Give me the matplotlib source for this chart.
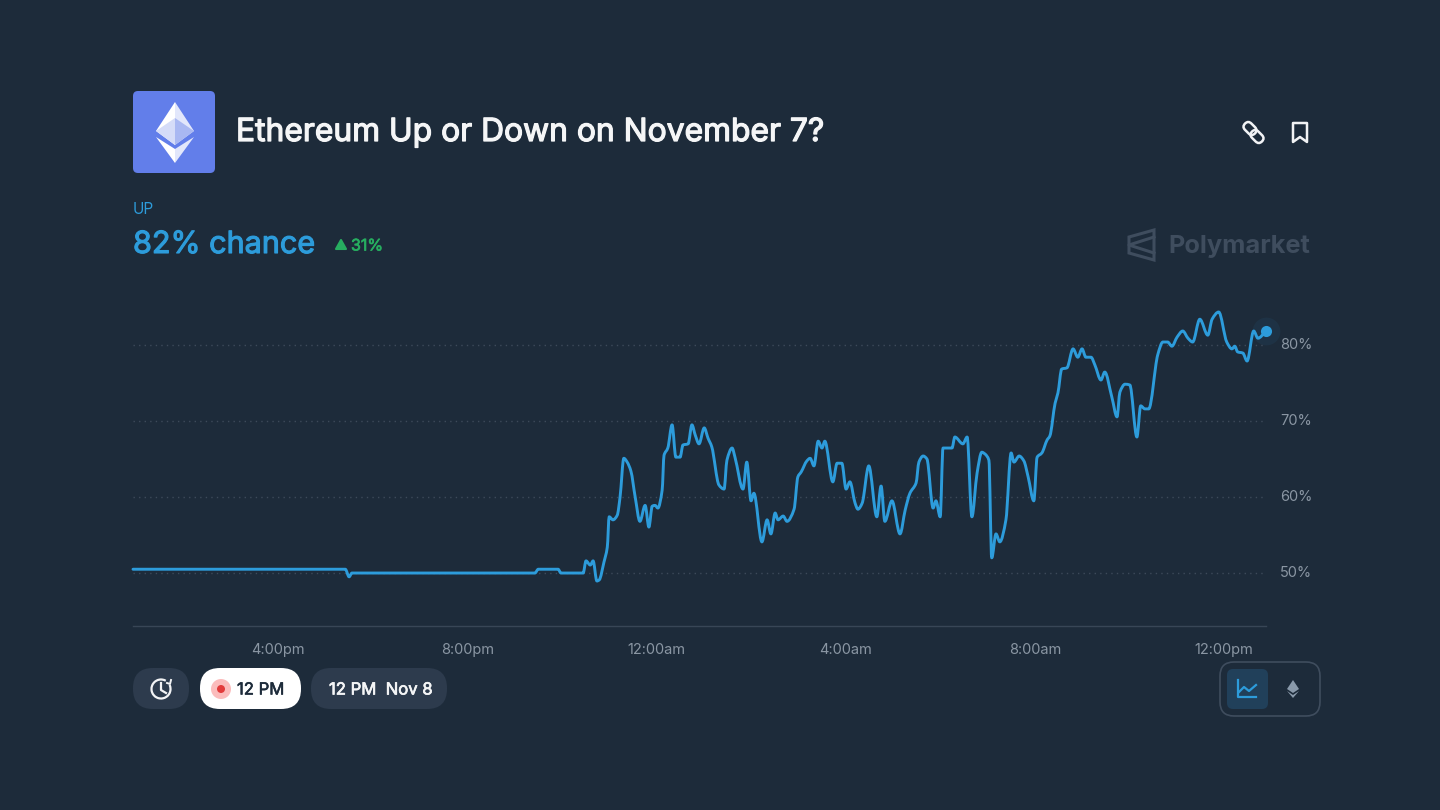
import matplotlib
matplotlib.use("Agg")
import matplotlib.pyplot as plt
import matplotlib.patheffects as pe
from matplotlib.patches import FancyBboxPatch, Polygon, Circle, Arc, PathPatch
from matplotlib.path import Path
from matplotlib.transforms import Affine2D, ScaledTranslation

BG = "#1d2b3a"
BLUE = "#2d9cdb"
GREEN = "#27ae60"
MUTED = "#8a96a3"
plt.rcParams["font.family"] = ["Inter", "DejaVu Sans"]

# hours counted from noon of Nov 6, 24 = midnight
hours = [12.93, 17.42, 17.50, 17.56, 21.43, 21.50, 21.92, 21.98, 22.45, 22.51, 22.60, 22.66, 22.74, 22.79,
         22.89, 22.96, 23.00, 23.08, 23.17, 23.23, 23.31, 23.38, 23.46, 23.55, 23.65, 23.76, 23.84, 23.91,
         23.97, 24.03, 24.12, 24.16, 24.24, 24.33, 24.41, 24.50, 24.56, 24.67, 24.75, 24.82, 24.90, 25.01,
         25.09, 25.17, 25.32, 25.43, 25.49, 25.60, 25.66, 25.83, 25.91, 26.00, 26.06, 26.23, 26.34, 26.42,
         26.51, 26.57, 26.68, 26.76, 26.91, 26.99, 27.06, 27.18, 27.25, 27.33, 27.42, 27.50, 27.56, 27.73,
         27.82, 27.92, 28.01, 28.09, 28.20, 28.26, 28.35, 28.49, 28.66, 28.75, 28.83, 28.98, 29.15, 29.26,
         29.36, 29.49, 29.55, 29.64, 29.72, 29.85, 29.91, 30.00, 30.06, 30.25, 30.31, 30.48, 30.57, 30.67,
         30.78, 30.88, 30.95, 31.03, 31.09, 31.18, 31.26, 31.39, 31.50, 31.56, 31.67, 31.77, 31.86, 31.98,
         32.05, 32.15, 32.26, 32.32, 32.43, 32.49, 32.57, 32.68, 32.81, 32.91, 33.00, 33.08, 33.19, 33.27,
         33.40, 33.48, 33.63, 33.74, 33.80, 33.91, 34.01, 34.16, 34.24, 34.33, 34.41, 34.60, 34.71, 34.81,
         34.90, 35.01, 35.13, 35.24, 35.34, 35.49, 35.66, 35.75, 35.89, 36.06, 36.17, 36.23, 36.29, 36.40,
         36.49, 36.63, 36.72, 36.89]
chance = [50.5, 50.5, 49.5, 50.0, 50.0, 50.5, 50.5, 50.0, 50.0, 51.6, 51.05, 51.6, 48.95, 49.1,
          51.45, 53.4, 57.4, 57.0, 57.6, 60.0, 65.1, 64.6, 63.4, 60.0, 56.8, 58.9, 56.05, 58.8,
          58.9, 58.55, 60.9, 65.5, 66.45, 69.5, 65.25, 65.25, 66.85, 67.0, 69.5, 68.15, 67.0, 69.1,
          67.75, 66.6, 61.6, 61.05, 64.85, 66.45, 65.25, 61.05, 64.6, 59.5, 60.5, 54.1, 57.0, 55.15,
          57.9, 57.0, 57.5, 56.8, 58.4, 62.65, 63.3, 64.75, 65.1, 64.1, 67.35, 66.45, 67.35, 62.0,
          64.45, 64.45, 61.05, 62.0, 59.2, 58.4, 59.2, 64.1, 57.4, 61.45, 56.8, 59.5, 55.15, 58.3,
          60.5, 61.85, 64.6, 65.4, 65.0, 58.55, 59.5, 57.4, 66.45, 66.45, 67.9, 67.0, 67.9, 57.4,
          63.15, 65.9, 65.65, 64.85, 52.0, 55.15, 54.1, 57.0, 65.8, 64.6, 65.4, 64.75, 62.65, 59.5,
          65.25, 65.8, 67.5, 68.05, 72.35, 73.7, 76.85, 77.0, 79.5, 78.4, 79.5, 78.4, 78.4, 77.4,
          75.4, 76.45, 73.15, 70.55, 73.8, 74.85, 74.75, 67.9, 72.0, 71.6, 71.6, 78.7, 80.4, 80.4,
          79.85, 81.05, 81.85, 80.9, 80.4, 83.4, 81.3, 83.4, 84.35, 80.4, 79.5, 79.85, 79.1, 78.95,
          77.9, 81.85, 80.9, 81.85]

y_ticks = [50, 60, 70, 80]
y_labels = ["50%", "60%", "70%", "80%"]
x_ticks = [16, 20, 24, 28, 32, 36]
x_labels = ["4:00pm", "8:00pm", "12:00am", "4:00am", "8:00am", "12:00pm"]


def monotone_path(xs, ys):
    # bezier through the points, flat at local peaks like a d3 monotone line
    slopes = [(ys[i + 1] - ys[i]) / (xs[i + 1] - xs[i]) for i in range(len(xs) - 1)]
    tang = [slopes[0]]
    for a, b in zip(slopes[:-1], slopes[1:]):
        tang.append(0 if a * b <= 0 else 2 * a * b / (a + b))
    tang.append(slopes[-1])
    verts = [(xs[0], ys[0])]
    codes = [Path.MOVETO]
    for i in range(len(xs) - 1):
        d = (xs[i + 1] - xs[i]) / 3
        verts += [(xs[i] + d, ys[i] + tang[i] * d), (xs[i + 1] - d, ys[i + 1] - tang[i + 1] * d), (xs[i + 1], ys[i + 1])]
        codes += [Path.CURVE4] * 3
    return Path(verts, codes)


fig = plt.figure(figsize=(14.4, 8.1), dpi=100, facecolor=BG)

# chart area spans x 133-1266, y 300-626 in pixels
ax = fig.add_axes([133 / 1440, 1 - 626 / 810, 1133 / 1440, 326 / 810], facecolor="none")
ax.set_xlim(12.93, 36.89)
ax.set_ylim(43.03, 85.93)
for s in ["top", "left", "right"]:
    ax.spines[s].set_visible(False)
ax.spines["bottom"].set_color("#384656")
ax.spines["bottom"].set_linewidth(1)
ax.set_xticks(x_ticks, x_labels)
ax.set_yticks(y_ticks, y_labels)
ax.yaxis.tick_right()
ax.tick_params(axis="both", length=0, labelsize=10.5, labelcolor=MUTED)
ax.tick_params(axis="x", pad=12.5)
ax.tick_params(axis="y", pad=10)
for lab in ax.get_yticklabels():
    lab.set_transform(lab.get_transform() + ScaledTranslation(0, 2 / 100, fig.dpi_scale_trans))
ax.grid(axis="y", color="#3d4a5a", linewidth=1, linestyle=(0, (1, 3)))
ax.add_patch(PathPatch(monotone_path(hours, chance), fc="none", ec=BLUE, lw=2.1, joinstyle="round",
                       capstyle="round", clip_on=False, zorder=3))
ax.plot(hours[-1], chance[-1], "o", color=BLUE, alpha=0.07, markersize=20, markeredgewidth=0, clip_on=False, zorder=3)
ax.plot(hours[-1], chance[-1], "o", color=BLUE, markersize=8, markeredgewidth=0, clip_on=False, zorder=4)

# everything around the chart, in pixel coordinates
ui = fig.add_axes([0, 0, 1, 1], facecolor="none")
ui.set_xlim(0, 1440)
ui.set_ylim(810, 0)
ui.axis("off")


def pill(x0, y0, x1, y1, r, fc, ec="none", lw=0, rot=None):
    p = FancyBboxPatch((x0 + r, y0 + r), x1 - x0 - 2 * r, y1 - y0 - 2 * r,
                       boxstyle=f"round,pad={r},rounding_size={r}", fc=fc, ec=ec, lw=lw)
    ui.add_patch(p)
    if rot is not None:
        p.set_transform(Affine2D().rotate_deg_around((x0 + x1) / 2, (y0 + y1) / 2, rot) + ui.transData)


# Inter only ships regular and bold here, a thin stroke stands in for medium
def medium(color, w=0.5):
    return [pe.withStroke(linewidth=w, foreground=color)]


# ethereum tile
pill(133, 91, 215, 173, 5, "#627eea")
ui.add_patch(Polygon([(175, 102), (156, 131), (175, 145)], fc="#ffffff", ec="none"))
ui.add_patch(Polygon([(175, 102), (194, 131), (175, 145)], fc="#e2e7fb", ec="none"))
ui.add_patch(Polygon([(175, 118), (156, 131), (175, 145)], fc="#d5dcf8", ec="none"))
ui.add_patch(Polygon([(175, 118), (194, 131), (175, 145)], fc="#a9b8f2", ec="none"))
ui.add_patch(Polygon([(156, 137), (175, 149), (175, 163)], fc="#ffffff", ec="none"))
ui.add_patch(Polygon([(194, 137), (175, 149), (175, 163)], fc="#e2e7fb", ec="none"))

ui.text(236, 132.5, "Ethereum Up or Down on November 7?", color="#f5f6f7", fontsize=22.9, va="center",
        path_effects=medium("#f5f6f7", 0.9))
ui.text(133, 210, "UP", color=BLUE, fontsize=11, va="center")
ui.text(133, 245, "82% chance", color=BLUE, fontsize=22, va="center", path_effects=medium(BLUE, 0.8))
ui.add_patch(Polygon([(341, 240), (346, 249), (336, 249)], fc=GREEN, ec=GREEN, lw=1.5, joinstyle="round"))
ui.text(351, 246, "31%", color=GREEN, fontsize=11.5, va="center", path_effects=medium(GREEN, 0.5))

# link icon
pill(1243, 124, 1257, 133, 4.5, "none", ec="#f2f3f5", lw=1.8, rot=45)
pill(1250, 132, 1264, 141, 4.5, "none", ec="#f2f3f5", lw=1.8, rot=45)
# bookmark icon
ui.add_patch(Polygon([(1293, 123), (1307, 123), (1307, 142), (1300, 137), (1293, 142)], fc="none",
                     ec="#f2f3f5", lw=1.8, joinstyle="round"))

# watermark
WM = "#3f4d5e"
ui.add_patch(Polygon([(1129, 237), (1154, 230), (1154, 260), (1129, 253)], fc="none", ec=WM, lw=2.2))
ui.plot([1154, 1129, 1154], [237, 245, 253], color=WM, lw=2.2)
ui.text(1168, 247, "Polymarket", color=WM, fontsize=18.3, fontweight="bold", va="center")

# bottom-left controls
pill(133, 668, 189, 709, 20, "#2d3b4d")
ui.add_patch(Arc((161, 689), 19, 19, theta1=-25, theta2=300, ec="#f2f3f5", lw=1.6))
ui.plot([161, 161, 166], [683, 690, 693], color="#f2f3f5", lw=1.6)
ui.plot([167, 170, 171], [683, 684, 680], color="#f2f3f5", lw=1.4)
pill(200, 668, 301, 709, 20, "#ffffff")
ui.add_patch(Circle((221, 689), 10, fc="#fbbcbc", ec="none"))
ui.add_patch(Circle((221, 689), 4, fc="#e23b3b", ec="none"))
ui.text(237, 690, "12 PM", color=BG, fontsize=12, va="center", path_effects=medium(BG, 0.4))
pill(311, 668, 447, 709, 20, "#2d3b4d")
ui.text(329, 690, "12 PM  Nov 8", color="#f5f6f7", fontsize=12, va="center", path_effects=medium("#f5f6f7", 0.5))

# bottom-right toggle
pill(1220, 662, 1320, 716, 14, "none", ec="#3f4d5e", lw=1.2)
pill(1227, 669, 1268, 709, 6, "#21405a")
ui.plot([1238, 1238, 1256], [680, 697, 697], color=BLUE, lw=1.6, solid_joinstyle="round")
ui.plot([1239, 1244, 1249, 1256], [692, 687, 691, 685], color=BLUE, lw=1.6, solid_joinstyle="round")
ui.add_patch(Polygon([(1293, 680), (1299, 689), (1293, 693), (1287, 689)], fc="#8a9aab", ec="none"))
ui.add_patch(Polygon([(1287, 691), (1293, 695), (1299, 691), (1293, 698)], fc="#8a9aab", ec="none"))

fig.savefig("out.png", dpi=100, facecolor=BG)
